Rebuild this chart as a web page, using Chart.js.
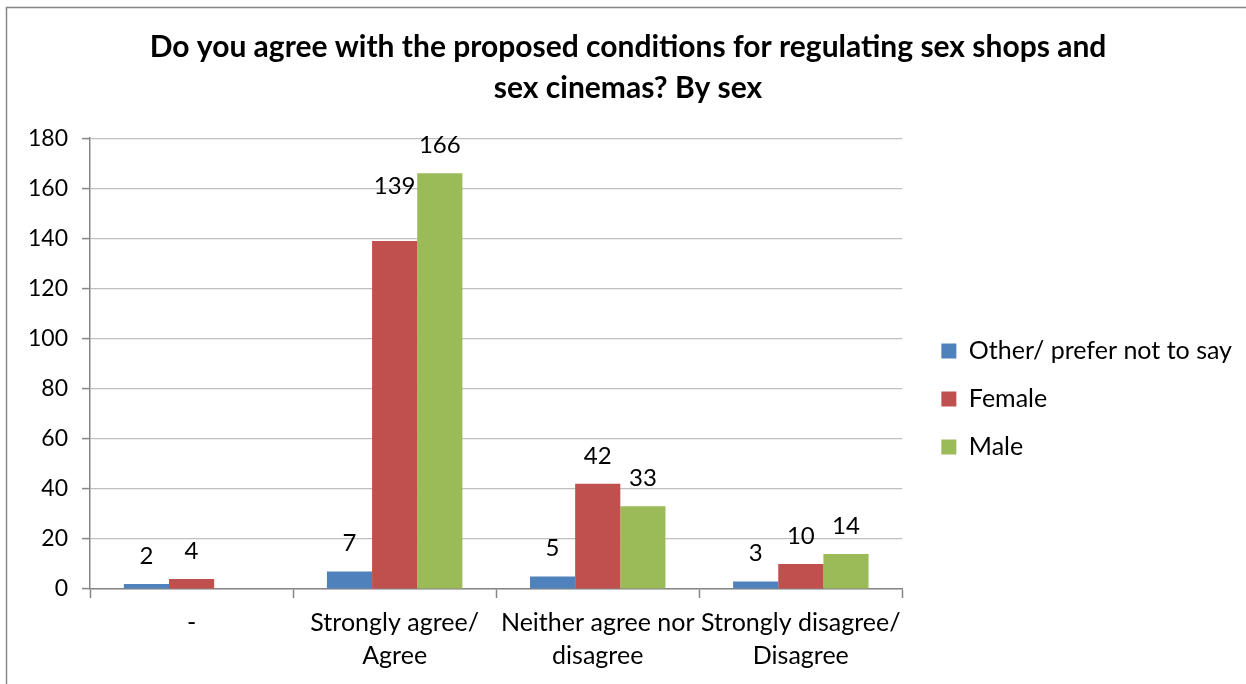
<!DOCTYPE html>
<html><head><meta charset="utf-8">
<script src="https://cdn.jsdelivr.net/npm/chart.js@4/dist/chart.umd.min.js"></script>
<style>html,body{margin:0;padding:0;background:#fff;overflow:hidden}canvas{display:block}</style>
</head><body>
<canvas id="c" width="1246" height="684"></canvas>
<script>
// ---- data ----
const categories = [['-'], ['Strongly agree/', 'Agree'], ['Neither agree nor', 'disagree'], ['Strongly disagree/', 'Disagree']];
const seriesNames = ['Other/ prefer not to say', 'Female', 'Male'];
const otherValues = [2, 7, 5, 3];
const femaleValues = [4, 139, 42, 10];
const maleValues = [null, 166, 33, 14];
const yMin = 0, yMax = 180, yStep = 20;
const titleLines = ['Do you agree with the proposed conditions for regulating sex shops and', 'sex cinemas? By sex'];

const FONT = 'Lato, "Open Sans", sans-serif';

const frame = {
  id: 'frame',
  beforeDraw(chart) {
    const ctx = chart.ctx;
    ctx.save();
    ctx.fillStyle = '#fff';
    ctx.fillRect(0, 0, chart.width, chart.height);
    ctx.strokeStyle = '#878787';
    ctx.lineWidth = 1.5;
    ctx.beginPath();
    ctx.moveTo(6.5, chart.height);
    ctx.lineTo(6.5, 7.5);
    ctx.lineTo(chart.width, 7.5);
    ctx.stroke();
    ctx.restore();
  }
};

const valueLabels = {
  id: 'valueLabels',
  afterDatasetsDraw(chart, args, opts) {
    const ctx = chart.ctx;
    ctx.save();
    ctx.font = opts.font;
    ctx.fillStyle = '#000';
    ctx.textAlign = 'center';
    ctx.textBaseline = 'middle';
    chart.data.datasets.forEach((ds, i) => {
      const meta = chart.getDatasetMeta(i);
      meta.data.forEach((bar, j) => {
        const v = ds.data[j];
        if (v === null || v === undefined) return;
        const extra = (opts.extraLift[i] && opts.extraLift[i][j]) || 0;
        ctx.fillText(String(v), bar.x, bar.y - opts.offset - extra);
      });
    });
    ctx.restore();
  }
};

new Chart(document.getElementById('c'), {
  type: 'bar',
  data: {
    labels: categories,
    datasets: [
      { label: seriesNames[0], data: otherValues, backgroundColor: '#4f81bd', borderWidth: 0 },
      { label: seriesNames[1], data: femaleValues, backgroundColor: '#c0504d', borderWidth: 0 },
      { label: seriesNames[2], data: maleValues, backgroundColor: '#9bbb59', borderWidth: 0 }
    ]
  },
  options: {
    responsive: false,
    animation: false,
    devicePixelRatio: 1,
    datasets: { bar: { categoryPercentage: 0.667, barPercentage: 1.0 } },
    layout: { padding: { left: 14, right: 4, top: 14, bottom: 4 } },
    plugins: {
      title: {
        display: true,
        text: titleLines,
        color: '#000',
        font: { family: FONT, size: 30, weight: 'bold', lineHeight: 1.37 },
        padding: { top: 13, bottom: 29 }
      },
      legend: {
        position: 'right',
        maxWidth: 420,
        title: { display: true, text: '', font: { size: 1, lineHeight: 1 }, padding: { top: 103, bottom: 0 } },
        labels: {
          color: '#000',
          font: { family: FONT, size: 25 },
          boxWidth: 15,
          boxHeight: 15,
          padding: 23
        }
      },
      tooltip: { enabled: false },
      valueLabels: { font: '24px ' + FONT, offset: 28, extraLift: { 1: { 1: 27 } } }
    },
    scales: {
      x: {
        grid: { display: true, drawOnChartArea: false, offset: true, tickLength: 9, tickColor: '#868686', tickWidth: 1.5 },
        border: { color: '#868686', width: 1.5 },
        ticks: { color: '#000', font: { family: FONT, size: 25, lineHeight: 1.32 }, padding: 8, maxRotation: 0, autoSkip: false }
      },
      y: {
        min: yMin, max: yMax,
        ticks: { stepSize: yStep, color: '#000', font: { family: FONT, size: 23 }, padding: 14 },
        grid: { color: '#bfbfbf', lineWidth: 1.2, tickLength: 8, tickColor: '#868686', tickWidth: 1.5 },
        border: { color: '#868686', width: 1.5 }
      },
      gap: {
        type: 'linear',
        position: 'right',
        display: true,
        grid: { display: false, drawTicks: false },
        border: { display: false },
        ticks: { display: false },
        afterFit(scale) { scale.width = 16; }
      }
    }
  },
  plugins: [frame, valueLabels]
});
</script>
</body></html>
